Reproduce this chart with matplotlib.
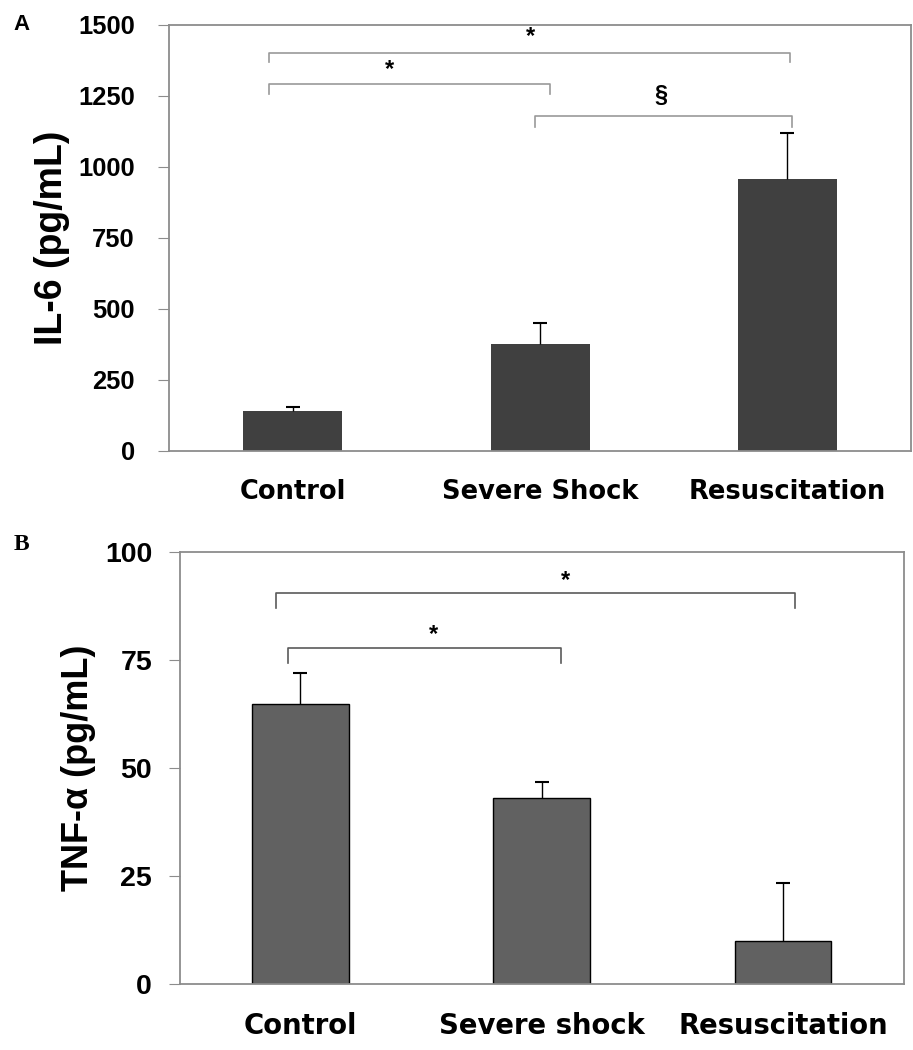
import numpy as np
import matplotlib.pyplot as plt

# panel A: IL-6
cats_a = ["Control", "Severe Shock", "Resuscitation"]
il6_mean = [141, 378, 957]
il6_err = [14, 74, 164]
# brackets: (x1, x2, y, drop to, label, label x, label y)
sig_a = [(-0.095, 2.01, 1402, 1370, "*", 0.96, 1460),
         (-0.095, 1.04, 1292, 1258, "*", 0.39, 1343),
         (0.98, 2.02, 1178, 1142, "§", 1.49, 1250)]

# panel B: TNF-alpha
cats_b = ["Control", "Severe shock", "Resuscitation"]
tnf_mean = [64.7, 43.0, 10.0]
tnf_err = [7.2, 3.7, 13.4]
sig_b = [(-0.1, 2.05, 90.6, 87.0, "*", 1.1, 93.3),
         (-0.05, 1.08, 77.8, 74.4, "*", 0.55, 81.0)]

fig = plt.figure(figsize=(9.13, 10.5), dpi=100)
ax_a = fig.add_axes([0.185, 0.5705, 0.813, 0.4057])
ax_b = fig.add_axes([0.197, 0.0629, 0.7926, 0.4114])

spine_col = "#8c8c8c"


def draw(ax, cats, mean, err, color, edge, ylim, step, ylabel, sig, brk_col,
         tick_fs, tick_pad, cat_fs, cat_pad, lab_fs):
    x = np.arange(len(cats))
    ax.bar(x, mean, width=0.4, color=color, edgecolor=edge, linewidth=1 if edge else 0, zorder=2)
    # upper error bars only
    _, caps, _ = ax.errorbar(x, mean, yerr=[np.zeros(len(err)), err], fmt="none", ecolor="black",
                             elinewidth=1, capsize=5, capthick=1.5, zorder=3)
    for c in caps:
        if np.allclose(c.get_ydata(), mean):
            c.set_visible(False)
    ax.set_xlim(-0.5, 2.5)
    ax.set_ylim(*ylim)
    ax.set_yticks(np.arange(ylim[0], ylim[1] + 1, step))
    ax.set_xticks(x)
    ax.set_xticklabels(cats, fontsize=cat_fs, fontweight="bold", family="DejaVu Sans")
    ax.tick_params(axis="x", length=0, pad=cat_pad)
    ax.tick_params(axis="y", length=8, color=spine_col, pad=tick_pad, labelsize=tick_fs)
    for lab in ax.get_yticklabels():
        lab.set_fontweight("bold")
        lab.set_family("Liberation Sans")
    for s in ax.spines.values():
        s.set_color(spine_col)
        s.set_linewidth(1.3)
    ax.set_ylabel(ylabel, fontsize=lab_fs, fontweight="bold", family="Liberation Sans", labelpad=6)
    for x1, x2, y, yd, lab, lx, ly in sig:
        ax.plot([x1, x1, x2, x2], [yd, y, y, yd], color=brk_col, lw=1.2, zorder=1)
        ax.text(lx, ly, lab, ha="center", va="center", fontsize=17, fontweight="bold",
                family="Liberation Sans")


draw(ax_a, cats_a, il6_mean, il6_err, "#404040", None, (0, 1500), 250,
     "IL-6 (pg/mL)", sig_a, "#999999", 18.4, 16.5, 18.5, 20, 27)
draw(ax_b, cats_b, tnf_mean, tnf_err, "#616161", "black", (0, 100), 25,
     "TNF-α (pg/mL)", sig_b, "#5a5a5a", 20.5, 12, 19.8, 20, 26)

fig.text(13 / 913, 1 - 25 / 1050, "A", fontsize=16, fontweight="bold",
         family="Liberation Sans", ha="left", va="center")
fig.text(14 / 913, 1 - 544 / 1050, "B", fontsize=17, fontweight="bold",
         family="Liberation Serif", ha="left", va="center")

fig.savefig("out.png", dpi=100)
